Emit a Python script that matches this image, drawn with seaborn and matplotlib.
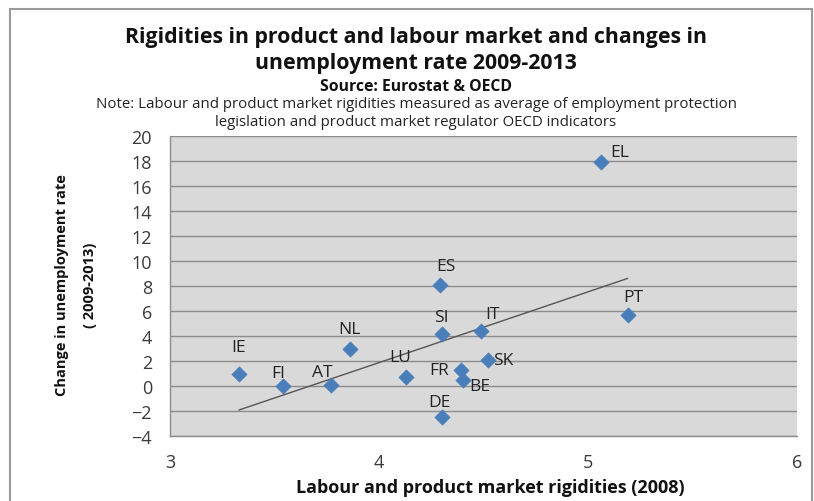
import numpy as np
import pandas as pd
import matplotlib
matplotlib.use('Agg')
import matplotlib.pyplot as plt
import seaborn as sns
from matplotlib.patches import Rectangle

# values
countries = ['IE', 'FI', 'AT', 'NL', 'LU', 'ES', 'SI', 'DE', 'FR', 'BE', 'IT', 'SK', 'EL', 'PT']
rigidity = [3.33, 3.54, 3.77, 3.86, 4.13, 4.29, 4.30, 4.30, 4.39, 4.40, 4.49, 4.52, 5.06, 5.19]
unemp_change = [1.0, 0.0, 0.1, 3.0, 0.75, 8.1, 4.15, -2.45, 1.25, 0.45, 4.4, 2.1, 17.9, 5.65]

# label offsets in pixels (dx, dy) from each point, mimicking the excel placement
label_offsets = {
    'IE': (0, 26), 'FI': (-5, 13), 'AT': (-9, 13), 'NL': (0, 20), 'LU': (-6, 20),
    'ES': (6, 19), 'SI': (0, 17), 'DE': (-2, 15), 'FR': (-21, 0), 'BE': (17, -6),
    'IT': (11, 17), 'SK': (16, 0), 'EL': (19, 10), 'PT': (6, 18),
}

df = pd.DataFrame({'country': countries, 'x': rigidity, 'y': unemp_change})

sns.set_style('white')
plt.rcParams['font.family'] = ['Open Sans', 'DejaVu Sans']

W, H = 814, 502
fig = plt.figure(figsize=(W / 100, H / 100), dpi=100)
ax = fig.add_axes([170 / W, 1 - 437 / H, (797 - 170) / W, (437 - 137) / H])

ax.set_facecolor('#d9d9d9')
ax.set_xlim(3, 6)
ax.set_ylim(-4, 20)
ax.set_yticks(np.arange(-4, 21, 2))
ax.set_xticks([3, 4, 5, 6])
ax.set_xticks([3.5, 4.5, 5.5], minor=True)
ax.yaxis.grid(True, color='#8c8c8c', linewidth=1)
ax.xaxis.grid(False)
ax.set_axisbelow(True)

for s in ['top', 'right']:
    ax.spines[s].set_visible(False)
for s in ['left', 'bottom']:
    ax.spines[s].set_color('#8c8c8c')
    ax.spines[s].set_linewidth(1)

ax.tick_params(axis='both', which='both', direction='out', length=5, width=1,
               color='#8c8c8c', labelsize=13, labelcolor='#3a3a3a')
ax.tick_params(axis='x', pad=7)
ax.tick_params(axis='y', pad=8)

# linear trendline (least squares over the points)
sns.regplot(data=df, x='x', y='y', ax=ax, scatter=False, ci=None,
            line_kws={'color': '#555555', 'linewidth': 1})

sns.scatterplot(data=df, x='x', y='y', ax=ax, marker='D', s=60,
                color='#4a7ebb', edgecolor='#4a7ebb', linewidth=0.5, zorder=3)

for c, xv, yv in zip(countries, rigidity, unemp_change):
    dx, dy = label_offsets[c]
    ax.annotate(c, (xv, yv), xytext=(dx, dy), textcoords='offset pixels',
                ha='center', va='center', fontsize=12.5, color='#222222')

ax.set_xlabel('')
ax.set_ylabel('')

# titles and axis titles
fig.text(416 / W, 1 - 38 / H, 'Rigidities in product and labour market and changes in',
         ha='center', va='center', fontsize=15.3, fontweight='bold', color='#111111')
fig.text(416 / W, 1 - 63 / H, 'unemployment rate 2009-2013',
         ha='center', va='center', fontsize=15.3, fontweight='bold', color='#111111')
fig.text(416 / W, 1 - 87 / H, 'Source: Eurostat & OECD',
         ha='center', va='center', fontsize=11.3, fontweight='bold', color='#111111')
fig.text(416 / W, 1 - 104 / H,
         'Note: Labour and product market rigidities measured as average of employment protection',
         ha='center', va='center', fontsize=10.8, color='#222222')
fig.text(416 / W, 1 - 122 / H,
         'legislation and product market regulator OECD indicators',
         ha='center', va='center', fontsize=10.8, color='#222222')
fig.text(490 / W, 1 - 488 / H, 'Labour and product market rigidities (2008)',
         ha='center', va='center', fontsize=13, fontweight='bold', color='#111111')
fig.text(62 / W, 1 - 285 / H, 'Change in unemployment rate',
         ha='center', va='center', rotation=90, fontsize=10.5, fontweight='bold', color='#111111')
fig.text(90 / W, 1 - 285 / H, '( 2009-2013)',
         ha='center', va='center', rotation=90, fontsize=10.5, fontweight='bold', color='#111111')

# chart area frame
fig.patches.append(Rectangle((10 / W, -0.05), (812 - 10) / W, (1 - 10 / H) + 0.05,
                             transform=fig.transFigure, fill=False,
                             edgecolor='#9a9a9a', linewidth=1.5))

fig.savefig('out.png', dpi=100)
